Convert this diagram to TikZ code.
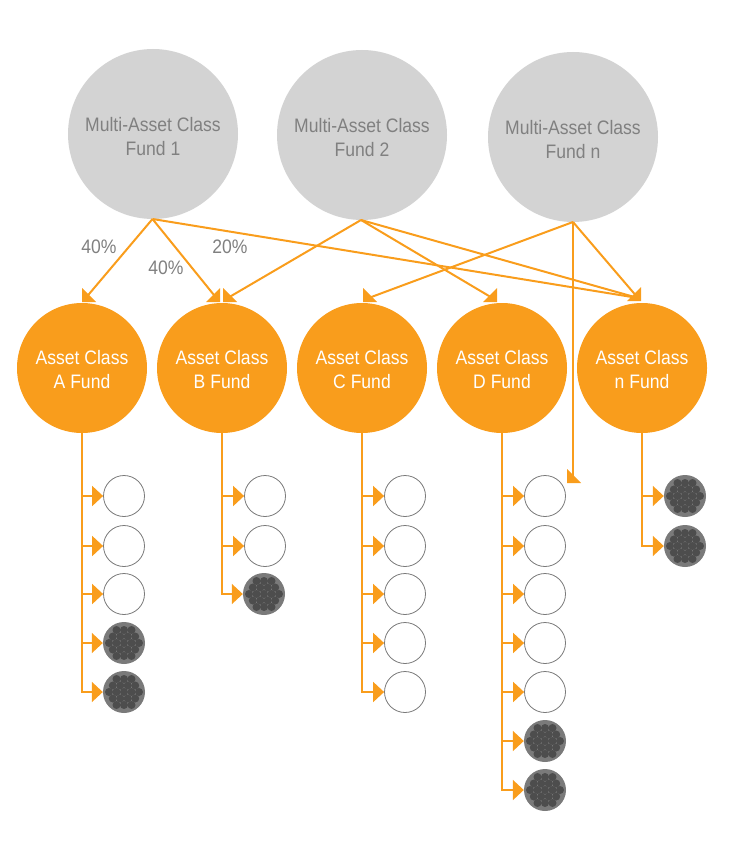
\documentclass[tikz,border=0pt]{standalone}
\usepackage{fontspec}
\setmainfont[FakeStretch=0.9]{Liberation Sans}
\usepackage{xcolor}
\usetikzlibrary{arrows.meta,calc}
\definecolor{linkc}{RGB}{249,157,28}
\definecolor{fundc}{RGB}{211,211,211}
\definecolor{textc}{RGB}{128,128,128}
\definecolor{holdc}{RGB}{122,122,122}
\definecolor{cellc}{RGB}{77,77,77}
\newcommand{\headl}[1]{\fill[linkc] (#1) -- ++(0,-14) -- ++(14,14) -- cycle;}
\newcommand{\headr}[1]{\fill[linkc] (#1) -- ++(0,-14) -- ++(-14,14) -- cycle;}
\tikzset{
  fund/.style={circle, fill=fundc, minimum size=170pt, inner sep=0pt, align=center, text=textc},
  asset/.style={circle, fill=linkc, minimum size=130pt, inner sep=0pt, align=center, text=white},
  empty/.style={circle, draw=holdc, line width=0.8pt, fill=white, minimum size=41pt, inner sep=0pt},
  full/.style={circle, fill=holdc, minimum size=42pt, inner sep=0pt, path picture={
    \foreach \dy/\dx in {-13/-7.5,-13/0,-13/7.5,-6.5/-11.2,-6.5/-3.7,-6.5/3.7,-6.5/11.2,
      0/-15,0/-7.5,0/0,0/7.5,0/15,6.5/-11.2,6.5/-3.7,6.5/3.7,6.5/11.2,13/-7.5,13/0,13/7.5}
      \fill[cellc] ($(path picture bounding box.center)+(\dx,\dy)$) circle (4);}},
  link/.style={draw=linkc, line width=2pt},
  leaf/.style={link, -{Triangle[length=11pt,width=20pt]}},
  pct/.style={text=textc}
}
\begin{document}
\begin{tikzpicture}[x=1pt, y=-1pt, every node/.style={font=\fontsize{19.5}{24}\selectfont}]
  \useasboundingbox (0,0) rectangle (734,850);
  % funds on top
  \node[fund] (fund1) at (153,134) {\rule{0pt}{19pt}Multi-Asset Class\\Fund 1};
  \node[fund] (fund2) at (362,135) {\rule{0pt}{20pt}Multi-Asset Class\\Fund 2};
  \node[fund] (fundn) at (573,137) {\rule{0pt}{20pt}Multi-Asset Class\\Fund n};
  % asset class funds
  \foreach \x/\n/\lab in {82/a/A,222/b/B,362/c/C,502/d/D,642/e/n} {
    \node[asset] (\n) at (\x,368) {\rule{0pt}{18pt}Asset Class\\\lab\ Fund};
  }
  % holdings
  \foreach \n/\x/\y/\s in {a1/124/496/empty,a2/124/546/empty,a3/124/594/empty,a4/124/643/full,a5/124/692/full,
    b1/265/496/empty,b2/265/546/empty,b3/264/594/full,
    c1/405/496/empty,c2/405/546/empty,c3/405/594/empty,c4/405/643/empty,c5/405/692/empty,
    d1/545/496/empty,d2/545/546/empty,d3/545/594/empty,d4/545/643/empty,d5/545/692/empty,d6/545/741/full,d7/545/790/full,
    e1/685/496/full,e2/685/546/full} {
    \node[\s] (\n) at (\x,\y) {};
  }
  \foreach \n/\k in {a/1,a/2,a/3,a/4,a/5,b/1,b/2,b/3,c/1,c/2,c/3,c/4,c/5,d/1,d/2,d/3,d/4,d/5,d/6,d/7,e/1,e/2} {
    \draw[leaf] (\n.south) |- (\n\k.west);
  }
  % free ends of the fund links
  \coordinate (tipa) at (82,302);
  \coordinate (tipbl) at (220,302);
  \coordinate (tipbr) at (223,302);
  \coordinate (tipc) at (363,302);
  \coordinate (tipd) at (497,302);
  \coordinate (tipe) at (641,301);
  \coordinate (tipx) at (567,483);
  \coordinate (topl) at (152.5,219);
  \coordinate (topm) at (361,220);
  \coordinate (topr) at (573,222);
  \draw[link] (topl) -- (84,300);
  \draw[link] (topl) -- (218,300);
  \draw[link] (topl) -- (638,298);
  \draw[link] (topm) -- (226,299);
  \draw[link] (topm) -- (494,299);
  \draw[link] (topm) -- (638,298);
  \draw[link] (topr) -- (366,299);
  \draw[link] (topr) -- (638,298);
  \draw[link] (topr) -- (573,480);
  \headl{tipa} \headr{tipbl} \headl{tipbr} \headl{tipc}
  \headr{tipd} \headr{tipe} \headl{tipx}
  % shares
  \node[pct] (pct1) at (99,247) {40\%};
  \node[pct] (pct2) at (166,268) {40\%};
  \node[pct] (pct3) at (230,247) {20\%};
\end{tikzpicture}
\end{document}
